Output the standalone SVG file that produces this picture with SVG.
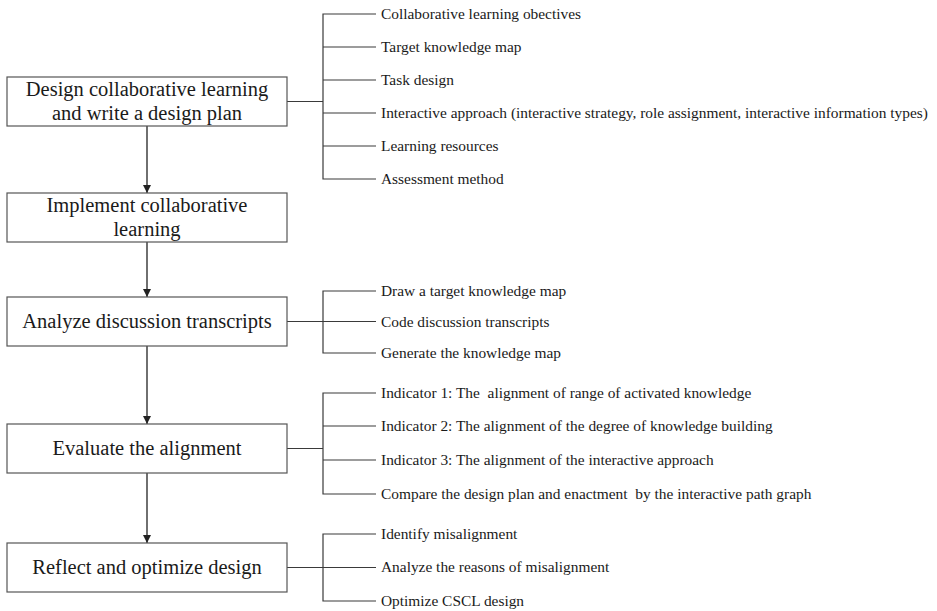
<svg xmlns="http://www.w3.org/2000/svg" width="937" height="611" viewBox="0 0 937 611">
  <style>
    .box { fill: #ffffff; stroke: #555555; stroke-width: 1.2; }
    .title { font-family: "Liberation Serif", "Times New Roman", serif; font-size: 20.5px; fill: #1a1a1a; text-anchor: middle; }
    .item { font-family: "Liberation Serif", "Times New Roman", serif; font-size: 15.4px; fill: #1a1a1a; }
    .wire { fill: none; stroke: #3a3a3a; stroke-width: 1.2; }
    .flow { fill: none; stroke: #222222; stroke-width: 1.3; }
  </style>
  <defs>
    <marker id="head" viewBox="0 0 8 10" refX="8" refY="5" markerWidth="8" markerHeight="10" markerUnits="userSpaceOnUse" orient="auto">
      <path d="M0,1 L8,5 L0,9 Z" fill="#222222"/>
    </marker>
  </defs>
  <rect width="937" height="611" fill="#ffffff"/>

  <!-- main flow and branch connectors -->
  <g id="connectors">
    <line class="flow" x1="147" y1="126" x2="147" y2="193" marker-end="url(#head)"/>
    <line class="flow" x1="147" y1="242" x2="147" y2="297" marker-end="url(#head)"/>
    <line class="flow" x1="147" y1="346" x2="147" y2="424" marker-end="url(#head)"/>
    <line class="flow" x1="147" y1="473" x2="147" y2="543" marker-end="url(#head)"/>

    <!-- design plan branches -->
    <path class="wire" d="M287,101.5 H323 M376,14 H323 V179 H376 M323,47 H376 M323,80 H376 M323,113 H376 M323,146 H376"/>
    <!-- transcript analysis branches -->
    <path class="wire" d="M287,321.5 H376 M376,291 H323 V353 H376"/>
    <!-- alignment evaluation branches -->
    <path class="wire" d="M287,448.5 H323 M376,393 H323 V494 H376 M323,426 H376 M323,460 H376"/>
    <!-- reflection branches -->
    <path class="wire" d="M287,567.5 H376 M376,534 H323 V601 H376"/>
  </g>

  <g id="design">
    <rect class="box" x="7" y="77" width="280" height="49"/>
    <text class="title" x="147" y="96">Design collaborative learning</text>
    <text class="title" x="147" y="120">and write a design plan</text>
  </g>
  <g id="implement">
    <rect class="box" x="7" y="193" width="280" height="49"/>
    <text class="title" x="147" y="212">Implement collaborative</text>
    <text class="title" x="147" y="236">learning</text>
  </g>
  <g id="analyze">
    <rect class="box" x="7" y="297" width="280" height="49"/>
    <text class="title" x="147" y="328">Analyze discussion transcripts</text>
  </g>
  <g id="evaluate">
    <rect class="box" x="7" y="424" width="280" height="49"/>
    <text class="title" x="147" y="455">Evaluate the alignment</text>
  </g>
  <g id="reflect">
    <rect class="box" x="7" y="543" width="280" height="49"/>
    <text class="title" x="147" y="574">Reflect and optimize design</text>
  </g>

  <g id="design-items">
    <text class="item" x="381" y="19">Collaborative learning obectives</text>
    <text class="item" x="381" y="52">Target knowledge map</text>
    <text class="item" x="381" y="85">Task design</text>
    <text class="item" x="381" y="118">Interactive approach (interactive strategy, role assignment, interactive information types)</text>
    <text class="item" x="381" y="151">Learning resources</text>
    <text class="item" x="381" y="184">Assessment method</text>
  </g>
  <g id="analyze-items">
    <text class="item" x="381" y="296">Draw a target knowledge map</text>
    <text class="item" x="381" y="327">Code discussion transcripts</text>
    <text class="item" x="381" y="358">Generate the knowledge map</text>
  </g>
  <g id="evaluate-items">
    <text class="item" x="381" y="398" xml:space="preserve">Indicator 1: The  alignment of range of activated knowledge</text>
    <text class="item" x="381" y="431">Indicator 2: The alignment of the degree of knowledge building</text>
    <text class="item" x="381" y="465">Indicator 3: The alignment of the interactive approach</text>
    <text class="item" x="381" y="499" xml:space="preserve">Compare the design plan and enactment  by the interactive path graph</text>
  </g>
  <g id="reflect-items">
    <text class="item" x="381" y="539">Identify misalignment</text>
    <text class="item" x="381" y="572">Analyze the reasons of misalignment</text>
    <text class="item" x="381" y="606">Optimize CSCL design</text>
  </g>
</svg>
